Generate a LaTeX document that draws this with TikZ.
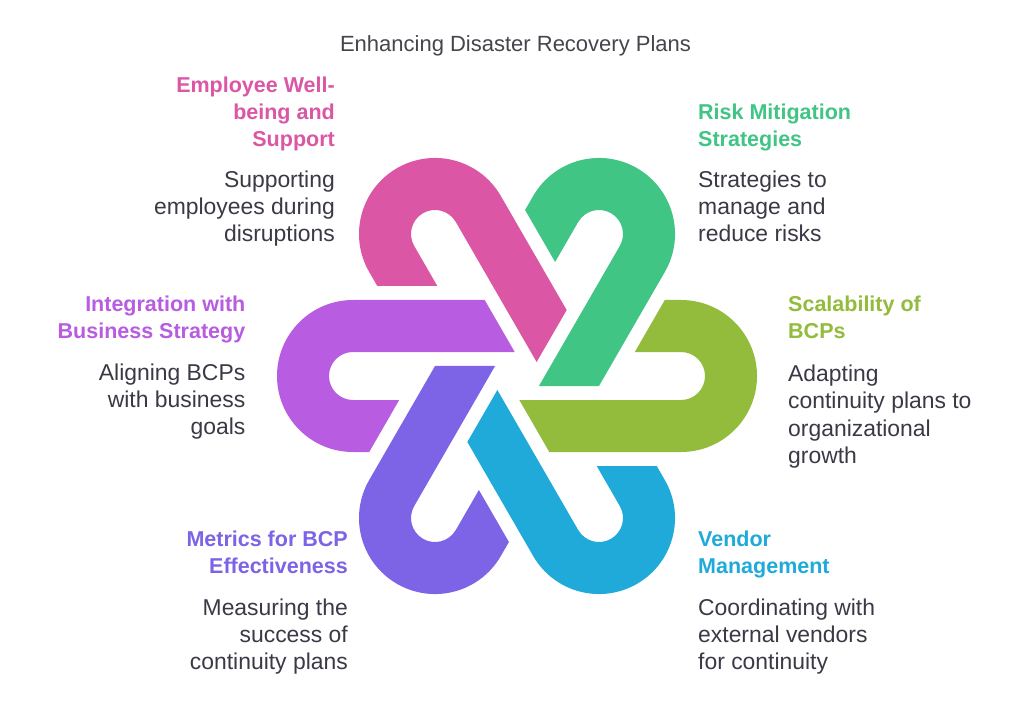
\documentclass[tikz,border=0pt]{standalone}
\usepackage{fontspec}
\setmainfont{Liberation Sans}
\definecolor{cpink}{HTML}{DB57A6}
\definecolor{cgreen}{HTML}{40C585}
\definecolor{clime}{HTML}{93BB3C}
\definecolor{cblue}{HTML}{20AAD9}
\definecolor{cviolet}{HTML}{7D63E6}
\definecolor{cpurple}{HTML}{B85CE2}
\definecolor{ctext}{HTML}{3A3A46}
\definecolor{ctitle}{HTML}{45454C}
\tikzset{
  hookshape/.pic={
    \fill[#1] (-164,76) -- (-32.3,76) -- (-2.3,24) -- (-164,24)
      arc[start angle=90,end angle=270,radius=24]
      -- (-117.8,-24) -- (-147.8,-76) -- (-164,-76)
      arc[start angle=270,end angle=90,radius=76] -- cycle;
  },
  hd/.style={inner sep=0pt, font=\fontsize{21.5}{26.9}\selectfont\bfseries},
  ds/.style={inner sep=0pt, text=ctext, font=\fontsize{22.9}{27.2}\selectfont},
}
\begin{document}
\begin{tikzpicture}[x=1pt,y=1pt]
\useasboundingbox (0,0) rectangle (1032,721);
\fill[white] (0,0) rectangle (1032,721);
\coordinate (c) at (517,345);
\pic[rotate=0] at (c) {hookshape=cpurple};
\pic[rotate=60] at (c) {hookshape=cviolet};
\pic[rotate=120] at (c) {hookshape=cblue};
\pic[rotate=180] at (c) {hookshape=clime};
\pic[rotate=240] at (c) {hookshape=cgreen};
\pic[rotate=300] at (c) {hookshape=cpink};

\node[inner sep=0pt, text=ctitle, font=\fontsize{22}{26.7}\selectfont, anchor=base] (title) at (515.5,669.3) {Enhancing Disaster Recovery Plans};

\node[hd, text=cpink, anchor=base east, align=right] (h1) at (335,574.3) {Employee Well-\\being and\\Support};
\node[ds, anchor=base east, align=right] (d1) at (335,479.3) {Supporting\\employees during\\disruptions};

\node[hd, text=cgreen, anchor=base west, align=left] (h2) at (698,574.3) {Risk Mitigation\\Strategies};
\node[ds, anchor=base west, align=left] (d2) at (698,479) {Strategies to\\manage and\\reduce risks};

\node[hd, text=cpurple, anchor=base east, align=right] (h3) at (245.5,382.7) {Integration with\\Business Strategy};
\node[ds, anchor=base east, align=right] (d3) at (245.5,286.5) {Aligning BCPs\\with business\\goals};

\node[hd, text=clime, anchor=base west, align=left] (h4) at (788,382.7) {Scalability of\\BCPs};
\node[ds, anchor=base west, align=left] (d4) at (788,257.7) {Adapting\\continuity plans to\\organizational\\growth};

\node[hd, text=cviolet, anchor=base east, align=right] (h5) at (348,147.7) {Metrics for BCP\\Effectiveness};
\node[ds, anchor=base east, align=right] (d5) at (348,51.5) {Measuring the\\success of\\continuity plans};

\node[hd, text=cblue, anchor=base west, align=left] (h6) at (698,147.7) {Vendor\\Management};
\node[ds, anchor=base west, align=left] (d6) at (698,51.5) {Coordinating with\\external vendors\\for continuity};
\end{tikzpicture}
\end{document}
